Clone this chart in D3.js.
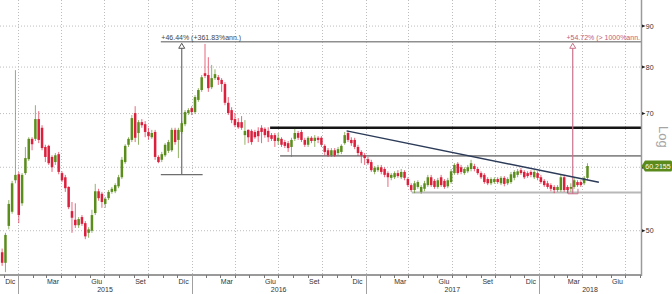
<!DOCTYPE html>
<html>
<head>
<meta charset="utf-8">
<script src="https://cdn.jsdelivr.net/npm/d3@7"></script>
<style>
  html, body { margin: 0; padding: 0; background: #fff; }
  svg { display: block; font-family: "Liberation Sans", Arial, sans-serif; }
</style>
</head>
<body>
<svg id="chart" width="672" height="294"></svg>
<script>
// weekly candles, first bar dated Fri 28 Nov 2014
const firstWeek = new Date(2014, 10, 28)

const opens = [
  47.0, 45.6, 50.7, 52.8, 57.8, 58.8, 54.1, 59.0, 61.4, 65.1,
  65.1, 68.9, 67.2, 63.6, 63.8, 61.8, 60.9, 62.3, 59.0, 58.3,
  56.7, 52.9, 51.6, 50.8, 52.0, 51.1, 49.7, 50.0, 52.6, 56.0,
  55.6, 54.0, 54.9, 55.9, 56.0, 56.8, 58.3, 60.9, 64.0, 64.9,
  70.1, 66.2, 68.3, 67.9, 66.4, 65.4, 66.4, 61.8, 61.3, 62.1,
  62.9, 63.0, 66.8, 64.9, 66.4, 67.9, 70.1, 71.1, 70.3, 72.8,
  74.9, 78.6, 78.2, 75.5, 77.5, 77.7, 77.1, 76.2, 72.2, 70.7,
  68.9, 68.3, 68.3, 65.8, 66.8, 66.6, 66.4, 66.6, 67.2, 67.0,
  66.6, 65.8, 65.8, 64.7, 65.1, 64.5, 64.3, 63.6, 65.1, 66.2,
  66.4, 64.9, 64.0, 65.3, 64.7, 65.3, 65.3, 63.8, 63.0, 62.1,
  63.0, 62.5, 62.7, 64.3, 66.2, 64.9, 64.9, 63.6, 62.7, 62.1,
  61.4, 60.9, 59.2, 59.5, 60.0, 59.7, 59.0, 58.2, 58.3, 59.0,
  58.3, 59.2, 58.0, 57.0, 56.2, 56.7, 55.9, 56.4, 57.0, 58.3,
  57.7, 56.7, 58.3, 57.7, 56.8, 57.5, 59.0, 60.6, 60.0, 59.0,
  59.3, 59.7, 60.2, 59.7, 59.0, 58.7, 58.0, 57.3, 57.5, 58.0,
  57.3, 58.2, 57.3, 57.5, 58.2, 58.7, 59.5, 59.2, 59.0, 59.2,
  58.3, 59.0, 58.3, 57.7, 57.3, 57.0, 56.7, 56.2, 56.2, 58.3,
  56.7, 56.4, 56.7, 57.5, 57.5, 57.3, 58.2
]
const highs = [
  47.5, 49.7, 54.6, 57.7, 79.3, 59.2, 59.0, 63.6, 65.4, 65.4,
  71.7, 70.5, 67.7, 64.0, 64.0, 62.1, 62.5, 62.7, 59.3, 58.7,
  56.8, 54.3, 54.1, 52.0, 52.3, 51.4, 50.5, 53.1, 57.2, 56.4,
  55.9, 55.1, 56.2, 56.7, 57.3, 58.7, 61.8, 64.1, 65.4, 69.7,
  71.5, 68.7, 68.9, 68.5, 67.2, 66.8, 66.8, 62.1, 62.7, 64.3,
  64.9, 67.2, 67.2, 67.2, 68.5, 70.7, 71.1, 71.5, 73.8, 75.3,
  78.2, 85.5, 82.3, 80.5, 79.5, 78.2, 77.5, 76.6, 73.4, 71.3,
  70.1, 69.1, 69.5, 68.7, 66.9, 66.9, 66.8, 67.3, 67.7, 67.3,
  67.3, 66.2, 66.2, 66.2, 65.4, 64.9, 64.7, 65.3, 67.0, 66.6,
  66.8, 65.3, 65.6, 65.6, 65.8, 65.6, 65.6, 64.1, 63.4, 63.4,
  63.4, 63.6, 64.1, 66.4, 66.6, 65.4, 65.3, 64.0, 63.0, 62.5,
  61.8, 61.3, 60.2, 60.4, 60.4, 60.0, 59.3, 59.0, 59.3, 59.5,
  59.7, 59.5, 58.3, 57.3, 57.7, 57.8, 57.0, 57.7, 58.7, 58.7,
  58.0, 58.2, 58.7, 58.0, 58.2, 59.7, 60.7, 60.9, 60.4, 60.0,
  60.4, 61.3, 60.6, 60.0, 59.3, 59.0, 58.3, 58.3, 58.3, 58.3,
  58.5, 58.5, 58.3, 59.2, 59.5, 59.7, 59.9, 59.5, 59.3, 59.5,
  59.5, 59.3, 58.7, 58.0, 57.7, 57.3, 57.0, 57.0, 58.7, 58.7,
  57.0, 57.3, 58.2, 57.8, 57.8, 58.5, 60.7
]
const lows = [
  45.2, 44.4, 50.2, 52.5, 57.3, 51.1, 53.7, 58.7, 61.1, 63.0,
  64.7, 64.3, 63.0, 60.9, 60.4, 59.2, 60.4, 58.8, 57.5, 55.9,
  53.2, 49.7, 50.4, 50.4, 50.7, 48.8, 49.0, 49.7, 52.3, 54.5,
  53.4, 53.4, 54.6, 55.6, 55.7, 56.5, 58.0, 60.6, 63.6, 64.5,
  64.5, 64.0, 67.2, 65.4, 64.9, 65.1, 61.3, 60.7, 60.9, 61.8,
  62.5, 62.7, 64.0, 61.6, 66.0, 67.5, 69.7, 69.7, 69.9, 72.4,
  74.5, 77.5, 74.5, 75.1, 77.1, 76.0, 74.5, 71.7, 69.7, 68.1,
  67.3, 67.0, 66.8, 64.0, 64.3, 64.0, 65.1, 64.5, 64.3, 65.3,
  64.5, 64.7, 63.6, 64.0, 63.6, 63.4, 62.7, 61.8, 64.7, 64.9,
  64.5, 63.6, 63.6, 64.3, 63.6, 64.3, 63.6, 62.1, 61.8, 61.8,
  61.8, 62.1, 62.3, 64.0, 64.5, 63.8, 63.2, 62.0, 60.7, 60.4,
  60.4, 59.2, 58.8, 59.2, 58.8, 58.3, 56.7, 57.8, 58.0, 58.2,
  58.0, 57.8, 56.7, 55.9, 55.7, 56.4, 55.6, 56.0, 56.7, 56.7,
  56.4, 56.4, 56.7, 56.4, 56.5, 57.2, 58.7, 58.7, 58.8, 58.7,
  59.0, 59.3, 59.3, 58.7, 58.0, 57.2, 57.0, 57.0, 57.2, 57.2,
  57.0, 56.8, 57.0, 57.2, 57.8, 58.3, 58.7, 58.0, 58.2, 58.3,
  58.0, 57.8, 57.2, 56.7, 56.4, 56.0, 55.7, 55.9, 55.9, 55.9,
  55.7, 55.9, 56.4, 56.7, 56.7, 57.0, 57.8
]
const closes = [
  45.6, 49.4, 54.0, 57.3, 58.7, 52.3, 58.7, 61.6, 65.1, 64.1,
  68.9, 64.9, 63.4, 61.8, 60.7, 60.0, 62.1, 59.2, 57.8, 56.5,
  53.5, 51.9, 50.8, 51.7, 51.0, 49.2, 50.2, 52.3, 56.0, 54.9,
  54.3, 54.8, 55.9, 56.4, 57.0, 58.3, 61.3, 63.8, 65.1, 69.1,
  65.3, 68.3, 67.7, 66.4, 65.6, 66.2, 61.8, 60.9, 62.3, 64.0,
  64.5, 66.8, 64.5, 66.8, 68.1, 70.3, 70.7, 70.3, 73.4, 74.9,
  77.7, 78.0, 75.3, 77.5, 78.4, 77.1, 76.2, 72.2, 70.1, 68.7,
  67.7, 67.3, 67.2, 66.6, 65.4, 64.5, 65.4, 65.6, 66.4, 65.8,
  65.4, 65.1, 64.7, 65.3, 64.0, 63.8, 63.4, 64.9, 66.2, 65.3,
  64.9, 64.0, 65.3, 64.7, 65.3, 64.9, 64.0, 62.7, 62.1, 63.0,
  62.1, 63.2, 63.8, 65.8, 64.9, 64.3, 63.6, 62.5, 62.1, 61.6,
  60.7, 59.5, 59.9, 60.0, 59.2, 58.7, 58.3, 58.7, 59.0, 58.5,
  59.2, 58.2, 57.0, 56.2, 57.3, 57.5, 56.7, 57.3, 58.3, 57.0,
  56.7, 57.8, 57.0, 56.7, 57.8, 59.3, 60.4, 59.0, 59.2, 59.7,
  60.0, 60.7, 59.7, 59.0, 58.3, 57.5, 57.3, 58.0, 58.0, 57.5,
  58.2, 57.2, 58.0, 58.8, 59.2, 59.3, 59.0, 58.3, 58.5, 58.7,
  59.2, 58.2, 57.5, 57.0, 56.7, 56.4, 56.2, 56.7, 58.3, 56.2,
  56.2, 56.7, 57.8, 57.0, 57.0, 58.2, 60.2155
]

const yTicks = [50, 60, 70, 80, 90]
const monthNames = ['Gen', 'Feb', 'Mar', 'Apr', 'Mag', 'Giu', 'Lug', 'Ago', 'Set', 'Ott', 'Nov', 'Dic']
const lastPrice = 60.2155

// horizontal levels drawn on the chart (start date -> right edge)
const levelValues = [67.2, 62.0, 55.8]
const levelStarts = [new Date(2016, 5, 14), new Date(2016, 6, 5), new Date(2017, 3, 8)]

// falling trend line
const trendDates = [new Date(2016, 10, 22), new Date(2018, 4, 7)]
const trendValues = [66.6, 57.46]

// the two % measurements, both up to the same high
const measureHigh = 86.03
const measureLows = [58.75, 55.6]
const measureDates = [new Date(2015, 11, 11), new Date(2018, 2, 13)]
const measureLabels = ['+46.44% (+361.83%ann.)', '+54.72% (> 1000%ann.']

const W = 672, H = 294
const plotRight = 641, plotBottom = 275
const green = '#5b8d1c', red = '#dc1f3d'

const x = d3.scaleTime()
  .domain([new Date(2014, 10, 23, 12), new Date(2018, 7, 3, 16)])
  .range([0, plotRight])
const y = d3.scaleLog()
  .domain([44.03, 97])
  .range([plotBottom, 0])

const candles = closes.map(function(c, i) {
  return { date: d3.timeDay.offset(firstWeek, i * 7), o: opens[i], h: highs[i], l: lows[i], c: c }
})

const svg = d3.select('#chart')

// grid
const grid = svg.append('g').attr('class', 'grid')
grid.selectAll('line.h')
  .data(yTicks)
  .enter().append('line')
  .attr('class', 'h')
  .attr('x1', 0).attr('x2', plotRight)
  .attr('y1', d => y(d)).attr('y2', d => y(d))
  .attr('stroke', '#bdbdbd').attr('stroke-dasharray', '1,2')

const quarters = d3.timeMonth.every(3).range(x.domain()[0], x.domain()[1])
grid.selectAll('line.v')
  .data(quarters)
  .enter().append('line')
  .attr('class', 'v')
  .attr('x1', d => Math.round(x(d)) + 0.5).attr('x2', d => Math.round(x(d)) + 0.5)
  .attr('y1', 0).attr('y2', plotBottom)
  .attr('stroke', '#bdbdbd').attr('stroke-dasharray', '1,2')

// level lines
const lvl = svg.append('g').attr('class', 'levels')
const lvlColors = ['#151515', '#8a8a8a', '#b8b8b8']
const lvlWidths = [2.6, 1.6, 2]
lvl.selectAll('line')
  .data(levelValues)
  .enter().append('line')
  .attr('x1', (d, i) => x(levelStarts[i])).attr('x2', plotRight)
  .attr('y1', d => y(d)).attr('y2', d => y(d))
  .attr('stroke', (d, i) => lvlColors[i])
  .attr('stroke-width', (d, i) => lvlWidths[i])

// measurement 1 (grey)
const m = svg.append('g').attr('class', 'measure')
m.append('line') // top line runs to the axis
  .attr('x1', x(new Date(2015, 9, 28))).attr('x2', plotRight)
  .attr('y1', y(measureHigh)).attr('y2', y(measureHigh))
  .attr('stroke', '#8f8f8f').attr('stroke-width', 1.5)
m.append('line')
  .attr('x1', x(new Date(2015, 9, 28))).attr('x2', x(new Date(2016, 0, 24)))
  .attr('y1', y(measureLows[0])).attr('y2', y(measureLows[0]))
  .attr('stroke', '#6e6e6e').attr('stroke-width', 1.2)
m.append('line')
  .attr('x1', x(measureDates[0])).attr('x2', x(measureDates[0]))
  .attr('y1', y(measureLows[0])).attr('y2', y(measureHigh) + 5)
  .attr('stroke', '#6e6e6e').attr('stroke-width', 1.2)

// measurement 2 (pink)
const pink = '#c9728a'
m.append('line')
  .attr('x1', x(measureDates[1])).attr('x2', x(measureDates[1]))
  .attr('y1', y(measureLows[1])).attr('y2', y(measureHigh) + 5)
  .attr('stroke', pink).attr('stroke-width', 1.2)
m.append('path')
  .attr('d', 'M' + x(new Date(2018, 2, 3)) + ',' + (y(measureLows[1]) - 5) +
    'V' + y(measureLows[1]) + 'H' + x(new Date(2018, 2, 24)) + 'V' + (y(measureLows[1]) - 5))
  .attr('fill', 'none').attr('stroke', pink).attr('stroke-width', 1)

// hollow arrow heads
m.selectAll('path.arrow')
  .data(measureDates)
  .enter().append('path')
  .attr('class', 'arrow')
  .attr('d', function(d) {
    const cx = x(d), ty = y(measureHigh) + 1.5
    return 'M' + cx + ',' + ty + 'L' + (cx + 3) + ',' + (ty + 5) + 'L' + (cx - 3) + ',' + (ty + 5) + 'Z'
  })
  .attr('fill', '#fff')
  .attr('stroke', (d, i) => i === 0 ? '#555' : pink)
  .attr('stroke-width', 1)

m.append('text')
  .attr('x', x(new Date(2015, 9, 28)) + 0.5)
  .attr('y', y(measureHigh) - 1.8)
  .attr('font-size', '7px').attr('fill', '#444')
  .text(measureLabels[0])
m.append('text')
  .attr('x', plotRight - 1)
  .attr('y', y(measureHigh) - 1.8)
  .attr('text-anchor', 'end')
  .attr('font-size', '7px').attr('fill', '#c25a76')
  .text(measureLabels[1])

// candles
const cg = svg.append('g').attr('class', 'candles')
cg.selectAll('line')
  .data(candles)
  .enter().append('line')
  .attr('x1', d => x(d.date)).attr('x2', d => x(d.date))
  .attr('y1', d => y(d.h)).attr('y2', d => y(d.l))
  .attr('stroke', d => d.c >= d.o ? green : red)
  .attr('stroke-width', 0.9)
  .attr('stroke-opacity', 0.75)
cg.selectAll('rect')
  .data(candles)
  .enter().append('rect')
  .attr('x', d => x(d.date) - 1.25)
  .attr('width', 2.5)
  .attr('y', d => y(Math.max(d.o, d.c)))
  .attr('height', d => Math.max(1, Math.abs(y(d.o) - y(d.c))))
  .attr('fill', d => d.c >= d.o ? green : red)

// trend line
svg.append('line')
  .attr('x1', x(trendDates[0])).attr('y1', y(trendValues[0]))
  .attr('x2', x(trendDates[1])).attr('y2', y(trendValues[1]))
  .attr('stroke', '#2c3b58').attr('stroke-width', 1.4)

// bottom axis
const ax = svg.append('g').attr('class', 'x-axis')
ax.append('line')
  .attr('x1', 0).attr('x2', plotRight)
  .attr('y1', plotBottom).attr('y2', plotBottom)
  .attr('stroke', '#9a9a9a').attr('stroke-width', 2)
ax.selectAll('line.m')
  .data(d3.timeMonth.range(x.domain()[0], x.domain()[1]))
  .enter().append('line')
  .attr('class', 'm')
  .attr('x1', d => Math.round(x(d)) + 0.5).attr('x2', d => Math.round(x(d)) + 0.5)
  .attr('y1', plotBottom).attr('y2', plotBottom + 3)
  .attr('stroke', '#777')
const years = d3.timeYear.range(x.domain()[0], x.domain()[1])
ax.selectAll('line.yr')
  .data(years)
  .enter().append('line')
  .attr('class', 'yr')
  .attr('x1', d => Math.round(x(d)) + 0.5).attr('x2', d => Math.round(x(d)) + 0.5)
  .attr('y1', plotBottom).attr('y2', H)
  .attr('stroke', '#a0a0a0')
ax.selectAll('text.mon')
  .data(d3.timeMonth.range(x.domain()[0], x.domain()[1]).filter(d => d.getMonth() % 3 === 2))
  .enter().append('text')
  .attr('class', 'mon')
  .attr('x', d => x(new Date(d.getFullYear(), d.getMonth(), 15)))
  .attr('y', plotBottom + 8.5)
  .attr('text-anchor', 'middle')
  .attr('font-size', '7px').attr('fill', '#333')
  .text(d => monthNames[d.getMonth()])
ax.selectAll('text.year')
  .data(years)
  .enter().append('text')
  .attr('class', 'year')
  .attr('x', function(d) {
    const end = Math.min(x(d3.timeYear.offset(d, 1)), plotRight)
    return (x(d) + end) / 2
  })
  .attr('y', plotBottom + 17)
  .attr('text-anchor', 'middle')
  .attr('font-size', '7px').attr('fill', '#333')
  .text(d => d.getFullYear())

// right axis
const py = y(lastPrice)
const ay = svg.append('g').attr('class', 'y-axis')
ay.append('line')
  .attr('x1', plotRight + 0.5).attr('x2', plotRight + 0.5)
  .attr('y1', 0).attr('y2', plotBottom + 1)
  .attr('stroke', '#9a9a9a').attr('stroke-width', 1.5)
ay.selectAll('path')
  .data(yTicks)
  .enter().append('path')
  .attr('d', d => 'M' + (plotRight + 1) + ',' + (y(d) - 1.5) + 'L' + (plotRight + 4.5) + ',' + y(d) + 'L' + (plotRight + 1) + ',' + (y(d) + 1.5) + 'Z')
  .attr('fill', '#222')
// the price tag hides any label it sits on
ay.selectAll('text')
  .data(yTicks.filter(d => Math.abs(y(d) - py) > 9))
  .enter().append('text')
  .attr('x', plotRight + 4.8)
  .attr('y', d => y(d) + 2.5)
  .attr('font-size', '7px').attr('fill', '#333')
  .text(d => d)

svg.append('text')
  .attr('transform', 'translate(659,126) rotate(90)')
  .attr('font-size', '13px').attr('fill', '#a5a5a5')
  .text('Log')

// last price tag
svg.append('path')
  .attr('d', 'M' + (plotRight + 0.5) + ',' + py + 'L' + (plotRight + 4) + ',' + (py - 5.5) +
    'H' + (W - 1.5) + 'Q' + W + ',' + (py - 5.5) + ' ' + W + ',' + (py - 4) +
    'V' + (py + 4) + 'Q' + W + ',' + (py + 5.5) + ' ' + (W - 1.5) + ',' + (py + 5.5) +
    'H' + (plotRight + 4) + 'Z')
  .attr('fill', '#5a8a1c')
svg.append('text')
  .attr('x', plotRight + 4.3)
  .attr('y', py + 2.5)
  .attr('font-size', '7px').attr('fill', '#fff')
  .text(lastPrice.toFixed(4))
</script>
</body>
</html>
